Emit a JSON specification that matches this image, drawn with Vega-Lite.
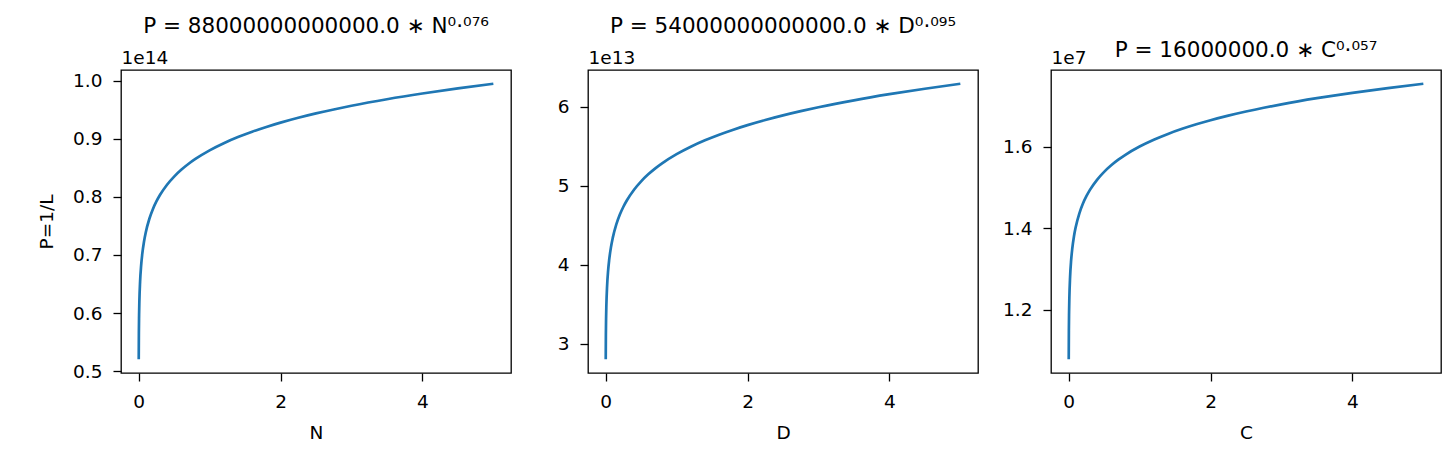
{
  "$schema": "https://vega.github.io/schema/vega-lite/v6.json",
  "padding": {"left": 36, "top": 14, "right": 5, "bottom": 5},
  "background": "white",
  "config": {
    "font": "DejaVu Sans",
    "view": {"stroke": "black", "strokeWidth": 1.3},
    "axis": {
      "grid": false, "domain": false, "tickColor": "black", "tickSize": 8, "tickWidth": 1.3,
      "labelColor": "black", "labelFontSize": 18.5, "labelFont": "DejaVu Sans", "labelPadding": 11,
      "titleFont": "DejaVu Sans", "titleFontSize": 18.5, "titleFontWeight": "normal", "titleColor": "black"
    },
    "title": {"font": "DejaVu Sans", "fontSize": 21.5, "fontWeight": "normal", "color": "black", "baseline": "alphabetic", "frame": "group", "anchor": "middle"},
    "line": {"color": "#1f77b4", "strokeWidth": 2.7},
    "concat": {"spacing": 22}
  },
  "datasets": {
    "N": [
      {"N": 0.001, "P": 5.2060e13}, {"N": 0.003, "P": 5.6591e13}, {"N": 0.006, "P": 5.9652e13},
      {"N": 0.01, "P": 6.2013e13}, {"N": 0.02, "P": 6.5367e13}, {"N": 0.035, "P": 6.8208e13},
      {"N": 0.05, "P": 7.0082e13}, {"N": 0.075, "P": 7.2275e13}, {"N": 0.1, "P": 7.3873e13},
      {"N": 0.15, "P": 7.6184e13}, {"N": 0.2, "P": 7.7868e13}, {"N": 0.25, "P": 7.9200e13},
      {"N": 0.3, "P": 8.0305e13}, {"N": 0.4, "P": 8.2080e13}, {"N": 0.5, "P": 8.3484e13},
      {"N": 0.6, "P": 8.4649e13}, {"N": 0.7, "P": 8.5647e13}, {"N": 0.8, "P": 8.6520e13},
      {"N": 1.0, "P": 8.8000e13}, {"N": 1.2, "P": 8.9228e13}, {"N": 1.4, "P": 9.0279e13},
      {"N": 1.6, "P": 9.1200e13}, {"N": 1.8, "P": 9.2020e13}, {"N": 2.0, "P": 9.2760e13},
      {"N": 2.25, "P": 9.3594e13}, {"N": 2.5, "P": 9.4347e13}, {"N": 2.75, "P": 9.5033e13},
      {"N": 3.0, "P": 9.5663e13}, {"N": 3.5, "P": 9.6790e13}, {"N": 4.0, "P": 9.7778e13},
      {"N": 4.5, "P": 9.8657e13}, {"N": 5.0, "P": 9.9450e13}
    ],
    "D": [
      {"D": 0.001, "P": 2.8015e13}, {"D": 0.003, "P": 3.1097e13}, {"D": 0.006, "P": 3.3214e13},
      {"D": 0.01, "P": 3.4865e13}, {"D": 0.02, "P": 3.7238e13}, {"D": 0.035, "P": 3.9272e13},
      {"D": 0.05, "P": 4.0625e13}, {"D": 0.075, "P": 4.2221e13}, {"D": 0.1, "P": 4.3390e13},
      {"D": 0.15, "P": 4.5094e13}, {"D": 0.2, "P": 4.6344e13}, {"D": 0.25, "P": 4.7337e13},
      {"D": 0.3, "P": 4.8164e13}, {"D": 0.4, "P": 4.9498e13}, {"D": 0.5, "P": 5.0559e13},
      {"D": 0.6, "P": 5.1442e13}, {"D": 0.7, "P": 5.2201e13}, {"D": 0.8, "P": 5.2867e13},
      {"D": 1.0, "P": 5.4000e13}, {"D": 1.2, "P": 5.4944e13}, {"D": 1.4, "P": 5.5754e13},
      {"D": 1.6, "P": 5.6466e13}, {"D": 1.8, "P": 5.7101e13}, {"D": 2.0, "P": 5.7676e13},
      {"D": 2.25, "P": 5.8325e13}, {"D": 2.5, "P": 5.8911e13}, {"D": 2.75, "P": 5.9447e13},
      {"D": 3.0, "P": 5.9940e13}, {"D": 3.5, "P": 6.0825e13}, {"D": 4.0, "P": 6.1601e13},
      {"D": 4.5, "P": 6.2294e13}, {"D": 5.0, "P": 6.2921e13}
    ],
    "C": [
      {"C": 0.001, "P": 1.0792e7}, {"C": 0.003, "P": 1.1490e7}, {"C": 0.006, "P": 1.1953e7},
      {"C": 0.01, "P": 1.2306e7}, {"C": 0.02, "P": 1.2802e7}, {"C": 0.035, "P": 1.3217e7},
      {"C": 0.05, "P": 1.3488e7}, {"C": 0.075, "P": 1.3804e7}, {"C": 0.1, "P": 1.4032e7},
      {"C": 0.15, "P": 1.4360e7}, {"C": 0.2, "P": 1.4598e7}, {"C": 0.25, "P": 1.4784e7},
      {"C": 0.3, "P": 1.4939e7}, {"C": 0.4, "P": 1.5186e7}, {"C": 0.5, "P": 1.5380e7},
      {"C": 0.6, "P": 1.5541e7}, {"C": 0.7, "P": 1.5678e7}, {"C": 0.8, "P": 1.5798e7},
      {"C": 1.0, "P": 1.6000e7}, {"C": 1.2, "P": 1.6167e7}, {"C": 1.4, "P": 1.6310e7},
      {"C": 1.6, "P": 1.6434e7}, {"C": 1.8, "P": 1.6545e7}, {"C": 2.0, "P": 1.6645e7},
      {"C": 2.25, "P": 1.6757e7}, {"C": 2.5, "P": 1.6858e7}, {"C": 2.75, "P": 1.6950e7},
      {"C": 3.0, "P": 1.7034e7}, {"C": 3.5, "P": 1.7184e7}, {"C": 4.0, "P": 1.7316e7},
      {"C": 4.5, "P": 1.7432e7}, {"C": 5.0, "P": 1.7537e7}
    ]
  },
  "hconcat": [
    {
      "width": 390, "height": 303,
      "data": {"name": "N"},
      "title": {"text": "P = 88000000000000.0 ∗ N⁰·⁰⁷⁶", "offset": 11},
      "encoding": {
        "y": {"field": "P", "type": "quantitative",
          "scale": {"domain": [4.969e13, 1.0182e14], "nice": false, "zero": false},
          "axis": {"values": [5e13, 6e13, 7e13, 8e13, 9e13, 1e14], "labelExpr": "format(datum.value/1e14, '.1f')", "title": "P=1/L", "titlePadding": 16}}
      },
      "layer": [
        {"mark": {"type": "line", "interpolate": "monotone"},
         "encoding": {"x": {"field": "N", "type": "quantitative",
           "scale": {"domain": [-0.24895, 5.24895], "nice": false, "zero": false},
           "axis": {"values": [0, 2, 4], "title": "N", "titlePadding": 13}}}},
        {"mark": {"type": "line", "opacity": 0},
         "encoding": {"x": {"field": "N", "type": "quantitative",
           "axis": {"orient": "top", "labels": false, "ticks": false, "title": "1e14", "titleX": 0, "titleY": -7, "titleAlign": "left", "titleBaseline": "alphabetic", "titleAngle": 0, "titleAnchor": "start"}}}}
      ],
      "resolve": {"axis": {"x": "independent"}}
    },
    {
      "width": 390, "height": 303,
      "data": {"name": "D"},
      "title": {"text": "P = 54000000000000.0 ∗ D⁰·⁰⁹⁵", "offset": 11},
      "encoding": {
        "y": {"field": "P", "type": "quantitative",
          "scale": {"domain": [2.627e13, 6.4666e13], "nice": false, "zero": false},
          "axis": {"values": [3e13, 4e13, 5e13, 6e13], "labelExpr": "format(datum.value/1e13, 'd')", "title": null, "minExtent": 53, "maxExtent": 53}}
      },
      "layer": [
        {"mark": {"type": "line", "interpolate": "monotone"},
         "encoding": {"x": {"field": "D", "type": "quantitative",
           "scale": {"domain": [-0.24895, 5.24895], "nice": false, "zero": false},
           "axis": {"values": [0, 2, 4], "title": "D", "titlePadding": 13}}}},
        {"mark": {"type": "line", "opacity": 0},
         "encoding": {"x": {"field": "D", "type": "quantitative",
           "axis": {"orient": "top", "labels": false, "ticks": false, "title": "1e13", "titleX": 0, "titleY": -7, "titleAlign": "left", "titleBaseline": "alphabetic", "titleAngle": 0, "titleAnchor": "start"}}}}
      ],
      "resolve": {"axis": {"x": "independent"}}
    },
    {
      "width": 390, "height": 303,
      "data": {"name": "C"},
      "title": {"text": "P = 16000000.0 ∗ C⁰·⁰⁵⁷", "offset": -13},
      "encoding": {
        "y": {"field": "P", "type": "quantitative",
          "scale": {"domain": [1.04552e7, 1.78745e7], "nice": false, "zero": false},
          "axis": {"values": [1.2e7, 1.4e7, 1.6e7], "labelExpr": "format(datum.value/1e7, '.1f')", "title": null}}
      },
      "layer": [
        {"mark": {"type": "line", "interpolate": "monotone"},
         "encoding": {"x": {"field": "C", "type": "quantitative",
           "scale": {"domain": [-0.24895, 5.24895], "nice": false, "zero": false},
           "axis": {"values": [0, 2, 4], "title": "C", "titlePadding": 13}}}},
        {"mark": {"type": "line", "opacity": 0},
         "encoding": {"x": {"field": "C", "type": "quantitative",
           "axis": {"orient": "top", "labels": false, "ticks": false, "title": "1e7", "titleX": 0, "titleY": -7, "titleAlign": "left", "titleBaseline": "alphabetic", "titleAngle": 0, "titleAnchor": "start"}}}}
      ],
      "resolve": {"axis": {"x": "independent"}}
    }
  ]
}
